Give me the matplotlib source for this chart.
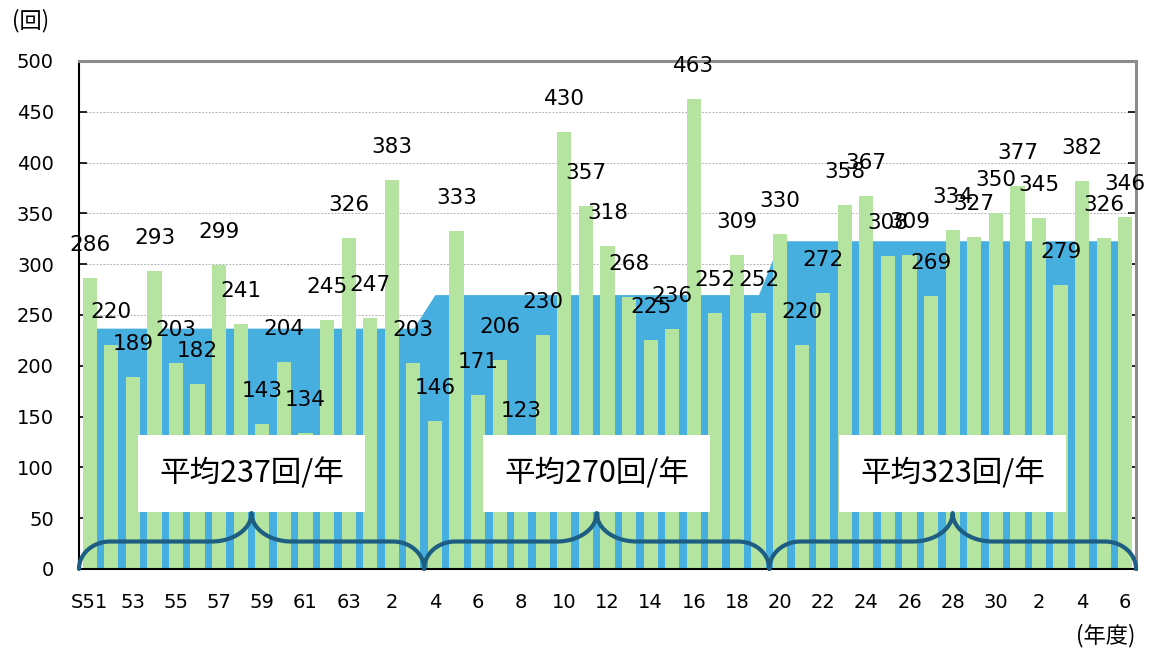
import numpy as np
import matplotlib
matplotlib.use('Agg')
import matplotlib.pyplot as plt
from matplotlib.patches import Rectangle

plt.rcParams['font.family'] = ['DejaVu Sans', 'Noto Sans CJK JP']

# 年度ごとの回数 (S51 - R6)
counts = [286, 220, 189, 293, 203, 182, 299, 241, 143, 204, 134, 245, 326,
          247, 383, 203, 146, 333, 171, 206, 123, 230, 430, 357, 318, 268,
          225, 236, 463, 252, 309, 252, 330, 220, 272, 358, 367, 308, 309,
          269, 334, 327, 350, 377, 345, 279, 382, 326, 346]

# x軸ラベル (2年おき)
tick_labels = ['S51', '53', '55', '57', '59', '61', '63', '2', '4', '6', '8',
               '10', '12', '14', '16', '18', '20', '22', '24', '26', '28',
               '30', '2', '4', '6']

# 期間ごとの平均
group_sizes = [16, 16, 17]
group_avgs = [237, 270, 323]

green = '#b4e4a0'
blue = '#47afe0'
brace_col = '#1d5e82'

x = np.arange(len(counts))
avg_line = np.repeat(group_avgs, group_sizes)

fig = plt.figure(figsize=(11.51, 6.48), dpi=100)
ax = fig.add_axes([0.0686, 0.122, 0.9184, 0.784])

# 平均 (面)
ax.fill_between(x, avg_line, 0, color=blue, lw=0, zorder=1)
# 回数 (棒)
ax.bar(x, counts, width=0.66, color=green, zorder=2)

# データラベル
for xi, v in zip(x, counts):
    ax.annotate(str(v), (xi, v), xytext=(0, 33), textcoords='offset pixels',
                ha='center', va='center', fontsize=15.5, zorder=6)

ax.set_xlim(-0.5, len(counts) - 0.5)
ax.set_ylim(0, 500)
ax.set_yticks(np.arange(0, 501, 50))
ax.yaxis.grid(True, color='#b4b4b4', linestyle=(0, (2, 1.5)), lw=0.7)
ax.set_axisbelow(True)

ax.set_xticks(x[::2])
ax.set_xticklabels(tick_labels)
ax.set_xticks(x[:-1] + 0.5, minor=True)
ax.tick_params(axis='x', which='major', length=0, pad=17, labelsize=14)
ax.tick_params(axis='x', which='minor', direction='in', length=5, width=1.2)
ax.tick_params(axis='y', direction='in', length=6, width=1.2, pad=18,
               labelsize=14, right=True)
for tk in ax.yaxis.get_major_ticks():
    tk.tick2line.set_color('#b8b8b8')

for s in ['left', 'bottom']:
    ax.spines[s].set_color('black')
    ax.spines[s].set_linewidth(1.5)
for s in ['top', 'right']:
    ax.spines[s].set_color('#8c8c8c')
    ax.spines[s].set_linewidth(2.2)

# 期間ごとの囲み文字と中括弧
edges = np.concatenate([[0], np.cumsum(group_sizes)]) - 0.5
t = np.linspace(0, np.pi / 2, 30)
for x0, x1, avg in zip(edges[:-1], edges[1:], group_avgs):
    xm = (x0 + x1) / 2
    ax.add_patch(Rectangle((xm - 5.25, 56), 10.5, 76, facecolor='white',
                           edgecolor='none', zorder=4))
    ax.text(xm, 94, f'平均{avg}回/年', ha='center', va='center', fontsize=22,
            family=['Noto Sans CJK JP', 'DejaVu Sans'], zorder=5)
    re, rm, ym, yp = 1.45, 1.85, 27, 55
    lx = np.concatenate([x0 + re - re * np.cos(t), xm - rm + rm * np.sin(t)])
    ly = np.concatenate([ym * np.sin(t), yp - (yp - ym) * np.cos(t)])
    bx = np.concatenate([lx, (2 * xm - lx)[::-1]])
    by = np.concatenate([ly, ly[::-1]])
    ax.plot(bx, by, color=brace_col, lw=3, zorder=5, clip_on=False,
            solid_capstyle='round')

fig.text(0.0104, 0.969, '(回)', ha='left', va='center', fontsize=16,
         family=['Noto Sans CJK JP', 'DejaVu Sans'])
fig.text(0.961, 0.019, '(年度)', ha='center', va='center', fontsize=16,
         family=['Noto Sans CJK JP', 'DejaVu Sans'])

fig.savefig('out.png', dpi=100)
